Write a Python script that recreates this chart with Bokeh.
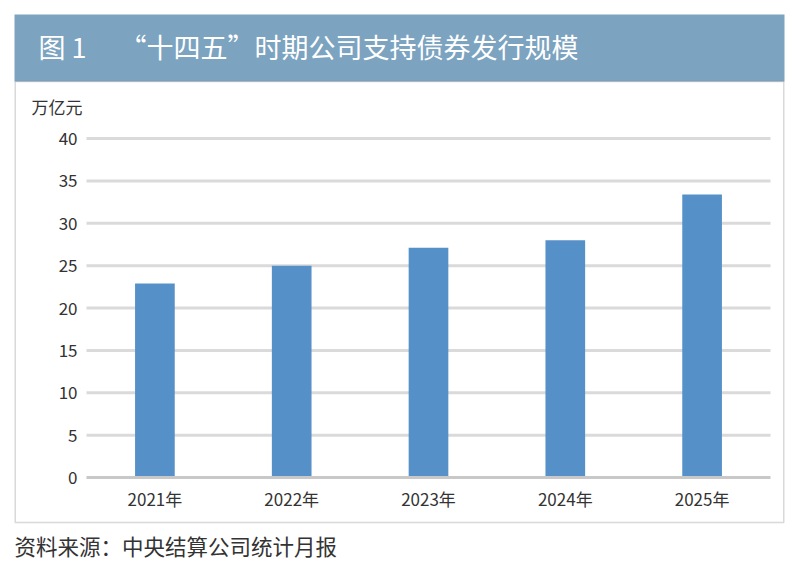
from bokeh.embed import file_html
from bokeh.models import BoxAnnotation, ColumnDataSource, Label, Range1d
from bokeh.plotting import figure
from bokeh.resources import INLINE

years = ["2021年", "2022年", "2023年", "2024年", "2025年"]
issuance = [22.9, 25.0, 27.1, 28.0, 33.4]
y_ticks = [0, 5, 10, 15, 20, 25, 30, 35, 40]

TITLE = "图 1\u3000\u00a0“十四五”时期公司支持债券发行规模"
UNIT = "万亿元"
SOURCE = "资料来源：中央结算公司统计月报"

FONT = "Noto Sans CJK SC"
BAR = "#5591c8"
BANNER = "#7ca3bf"
GRID = "#dadada"
INK = "#333333"

W, H = 800, 575
# plot area in canvas pixels: value 0 at y=477, value 40 at y=138
AREA_L, AREA_R, AREA_T, AREA_B = 86, 770, 138, 477
Y_MAX = 40

slot = (AREA_R - AREA_L) / len(years)
px_per_unit = (AREA_B - AREA_T) / Y_MAX
x_start = -0.5 - AREA_L / slot
x_end = x_start + W / slot
y_start = -(H - AREA_B) / px_per_unit
y_end = y_start + H / px_per_unit

p = figure(
    width=W, height=H, output_backend="svg", toolbar_location=None,
    x_range=Range1d(x_start, x_end), y_range=Range1d(y_start, y_end),
    min_border=0, background_fill_color="white", border_fill_color="white",
)
p.outline_line_color = None
p.xgrid.visible = False
p.ygrid.visible = False

positions = list(range(len(years)))
grid_src = ColumnDataSource(dict(y=y_ticks[1:]))
p.segment(x0=-0.5, x1=len(years) - 0.5, y0="y", y1="y", source=grid_src,
          line_color=GRID, line_width=3)

src = ColumnDataSource(dict(x=positions, value=issuance))
p.vbar(x="x", top="value", width=0.29, source=src, fill_color=BAR, line_color=None)

p.yaxis.fixed_location = -0.5
p.yaxis.ticker = y_ticks
p.yaxis.axis_line_color = None
p.yaxis.major_label_standoff = 9

p.xaxis.fixed_location = 0
p.xaxis.ticker = positions
p.xaxis.major_label_overrides = {i: y for i, y in zip(positions, years)}
p.xaxis.bounds = (-0.5, len(years) - 0.5)
p.xaxis.axis_line_color = "#c8c8c8"
p.xaxis.axis_line_width = 3
p.xaxis.major_label_standoff = 8
for ax in (p.xaxis, p.yaxis):
    ax.major_tick_line_color = None
    ax.minor_tick_line_color = None
    ax.major_tick_out = 0
    ax.major_tick_in = 0
    ax.major_label_text_font = FONT
    ax.major_label_text_font_size = "17px"
    ax.major_label_text_color = INK


def box(left, right, top, bottom, **kw):
    # screen units run upward from the bottom of the plot area
    return BoxAnnotation(left=left, right=right, top=H - top, bottom=H - bottom,
                         left_units="screen", right_units="screen",
                         top_units="screen", bottom_units="screen", **kw)


p.add_layout(box(14, 784, 14, 81, fill_color=BANNER, fill_alpha=1, line_color=None))
p.add_layout(box(14.75, 783.25, 81, 522, fill_alpha=0,
                 line_color="#808080", line_width=1.5))


def label(x, y, text, size, color):
    return Label(x=x, y=H - y, x_units="screen", y_units="screen", text=text,
                 text_font=FONT, text_font_size=size, text_color=color,
                 text_baseline="middle")


p.add_layout(label(38, 46, TITLE, "27px", "white"))
p.add_layout(label(31, 106, UNIT, "17px", INK))
p.add_layout(label(14, 545, SOURCE, "21.5px", INK))

open("out.html", "w").write(file_html(p, INLINE))
